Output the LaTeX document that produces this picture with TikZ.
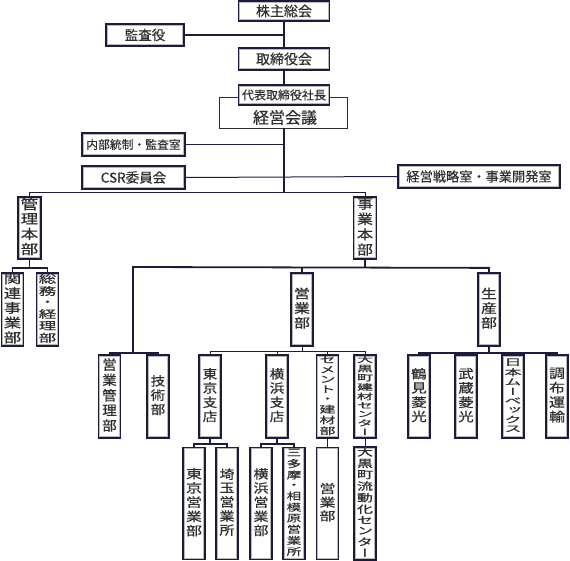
\documentclass[tikz,border=0pt]{standalone}
\usepackage{fontspec}
\usepackage{graphicx}
\setmainfont{Noto Sans CJK JP}[RawFeature={embolden=0.3}]
\newfontfamily\vjp{Noto Sans CJK JP}[RawFeature={+vert;embolden=0.5}]
\definecolor{nv}{HTML}{1B1B40}
\definecolor{tx}{HTML}{2E2E2E}
\newcommand{\fs}[1]{\fontsize{#1}{#1}\selectfont}
\newcommand{\VT}[3]{\scalebox{1}[#1]{\vjp\fontsize{#2}{#2}\selectfont\begin{tabular}{@{}c@{}}#3\end{tabular}}}
\tikzset{
  box/.style={draw=nv, line width=1.8pt, fill=white, inner sep=0pt, text=tx,
    path picture={\draw[gray!55, line width=0.7pt]
      ([shift={(1.3pt,1.3pt)}]path picture bounding box.south west) rectangle
      ([shift={(-1.3pt,-1.3pt)}]path picture bounding box.north east);}},
  r1/.style={box, minimum width=23pt, minimum height=62pt},
  r2/.style={box, minimum width=22pt, minimum height=73pt},
  r3/.style={box, minimum width=22pt, minimum height=83pt},
  r4/.style={box, minimum width=22pt, minimum height=112pt},
  thk/.style={draw=nv, line width=1.8pt},
  thm/.style={draw=nv, line width=1.4pt},
  thn/.style={draw=nv, line width=1pt},
}
\begin{document}
\begin{tikzpicture}[x=1pt,y=-1pt]
\useasboundingbox (0,0) rectangle (570,561);
% top
\node[box, minimum width=91pt, minimum height=20pt, font=\fs{14}] (kabu) at (284,11) {株主総会};
\node[box, minimum width=78pt, minimum height=22pt, font=\fs{13.5}] (kansa) at (145,35) {監査役};
\node[box, minimum width=91pt, minimum height=22pt, font=\fs{14}] (tori) at (284,59) {取締役会};
\node[draw=tx, line width=0.8pt, fill=white, minimum width=128pt, minimum height=31pt, inner sep=0pt] (keiei) at (283,112.5) {};
\node[font=\fs{16}, text=tx, inner sep=0pt] (keieit) at (285,117.5) {経営会議};
\node[box, minimum width=91pt, minimum height=20pt, font=\fs{12}] (daihyo) at (284,95) {代表取締役社長};
\node[box, minimum width=103pt, minimum height=23pt, font=\fs{11.8}] (naibu) at (133.5,144.5) {内部統制・監査室};
\node[box, minimum width=103pt, minimum height=23pt, font=\fs{13.5}] (csr) at (133.5,177.5) {CSR委員会};
\node[box, minimum width=162pt, minimum height=23pt, font=\fs{13.2}] (senryaku) at (479,176.5) {経営戦略室・事業開発室};
\coordinate (h1) at (284,193);
% level 1
\node[r1] (kanri) at (29.5,228) {\VT{0.76}{17.5}{管\\理\\本\\部}};
\node[r1] (jigyo) at (365,228) {\VT{0.84}{16}{事\\業\\本\\部}};
% level 2
\node[r2] (kanren) at (12.5,309.5) {\VT{0.74}{17.5}{関\\連\\事\\業\\部}};
\node[r2] (somu) at (47.5,309.5) {\VT{0.61}{17.5}{総\\務\\・\\経\\理\\部}};
\node[r2] (eigyo) at (302,309.5) {\VT{0.8}{16}{営\\業\\部}};
\node[r2] (seisan) at (489,309.5) {\VT{0.8}{16}{生\\産\\部}};
% level 3
\node[r3] (eikan) at (109.5,396.5) {\VT{0.93}{14.5}{営\\業\\管\\理\\部}};
\node[r3] (gijutsu) at (158,396.5) {\VT{0.86}{14.5}{技\\術\\部}};
\node[r3] (tokyo) at (210,396.5) {\VT{0.86}{14.5}{東\\京\\支\\店}};
\node[r3] (yokohama) at (277,396.5) {\VT{0.86}{14.5}{横\\浜\\支\\店}};
\node[r3] (cement) at (327.5,396.5) {\VT{0.59}{16}{セ\\メ\\ン\\ト\\・\\建\\材\\部}};
\node[r3] (daikoku) at (365,396.5) {\VT{0.52}{16}{大\\黒\\町\\建\\材\\セ\\ン\\タ\\ー}};
\node[r3] (tsurumi) at (419,396.5) {\VT{0.81}{15.5}{鶴\\見\\菱\\光}};
\node[r3] (musashi) at (466,396.5) {\VT{0.81}{15.5}{武\\蔵\\菱\\光}};
\node[r3] (nihon) at (513,396.5) {\VT{0.53}{17}{日\\本\\ム\\ー\\ベ\\ッ\\ク\\ス}};
\node[r3] (chofu) at (557,396.5) {\VT{0.8}{16}{調\\布\\運\\輸}};
% level 4
\node[r4] (tokyoE) at (194,503.5) {\VT{0.78}{16}{東\\京\\営\\業\\部}};
\node[r4] (saitama) at (227,503.5) {\VT{0.83}{15}{埼\\玉\\営\\業\\所}};
\node[r4] (yokoE) at (261,503.5) {\VT{0.83}{15}{横\\浜\\営\\業\\部}};
\node[r4] (santama) at (294,503.5) {\VT{0.68}{14.5}{三\\多\\摩\\・\\相\\模\\原\\営\\業\\所}};
\node[r4] (cemE) at (327.5,503.5) {\VT{0.75}{16}{営\\業\\部}};
\node[r4] (ryudo) at (365,503.5) {\VT{0.64}{16}{大\\黒\\町\\流\\動\\化\\セ\\ン\\タ\\ー}};
% connectors top
\draw[thk] (kabu) -- (tori);
\draw[thk] (kansa.east) -- (kansa.east -| kabu.south);
\draw[thk] (tori) -- (daihyo);
\draw[thk] (keiei.south -| h1) -- (h1);
\draw[thk] (naibu.east) -- (naibu.east -| h1);
\draw[thn] (csr.east) -- (senryaku.west);
\draw[thn] (kanri.north) -- ++(0,-4) -| (jigyo.north);
% kanri
\draw[thk] (kanri.south) -- ++(0,8) coordinate (k2);
\draw[thk] (kanren.north) |- (k2) -| (somu.north);
% jigyo
\draw[thk] (jigyo.south) -- ++(0,8) coordinate (j2);
\coordinate (j2l) at (133,267);
\coordinate (g1) at (133,353);
\draw[thk] (g1) -- (j2l) -- (seisan.north |- j2) -- (seisan.north);
\draw[thk] (eigyo.north) -- (eigyo.north |- j2);
\draw[thk] (eikan.north) |- (g1) -| (gijutsu.north);
% eigyo
\draw[thn] (eigyo.south) -- ++(0,5) coordinate (e2);
\draw[thn] (tokyo.north) |- (e2) -| (daikoku.north);
\draw[thn] (yokohama.north) -- (yokohama.north |- e2);
\draw[thn] (cement.north) -- (cement.north |- e2);
% seisan
\draw[thm] (seisan.south) -- ++(0,6) coordinate (s2);
\draw[thm] (tsurumi.north) |- (s2) -| (chofu.north);
\draw[thm] (musashi.north) -- (musashi.north |- s2);
\draw[thm] (nihon.north) -- (nihon.north |- s2);
% branches
\draw[thk] (tokyo.south) -- ++(0,5) coordinate (t2);
\draw[thk] (tokyoE.north) |- (t2) -| (saitama.north);
\draw[thk] (yokohama.south) -- ++(0,5) coordinate (y2);
\draw[thk] (yokoE.north) |- (y2) -| (santama.north);
\draw[thk] (cement) -- (cemE);
\draw[thn] (daikoku) -- (ryudo);
\end{tikzpicture}
\end{document}
